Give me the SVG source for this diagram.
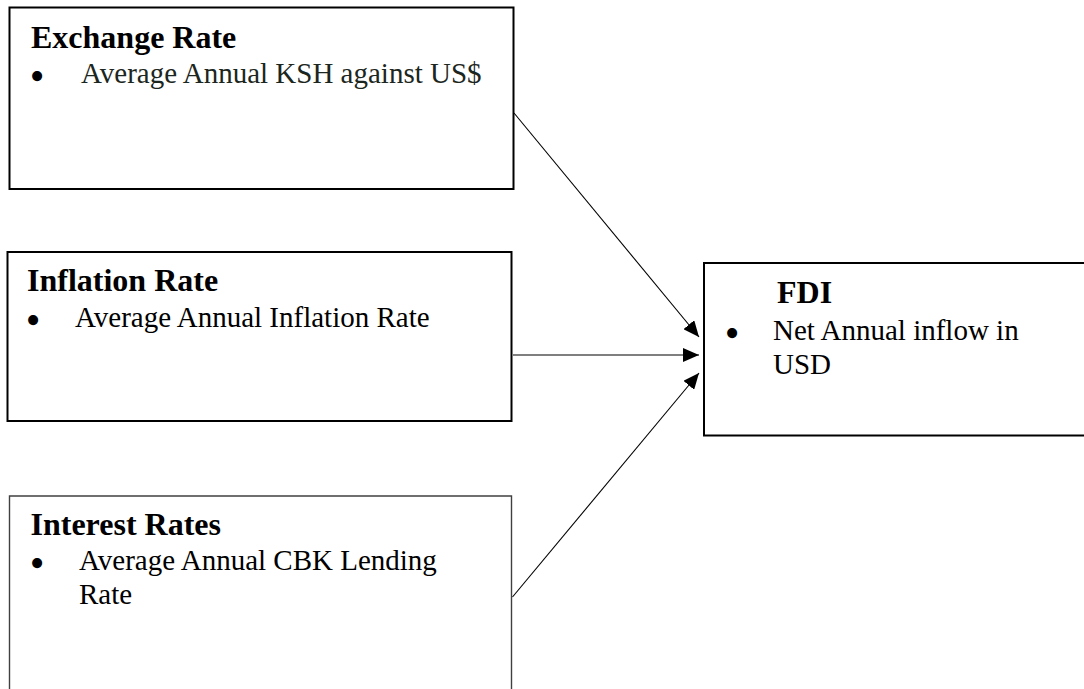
<svg xmlns="http://www.w3.org/2000/svg" width="1084" height="689" viewBox="0 0 1084 689">
  <style>
    .box { fill: #ffffff; stroke: #000000; stroke-width: 2; }
    .box3 { fill: #ffffff; stroke: #404040; stroke-width: 1.4; }
    .ttl { font-family: "Liberation Serif", "Times New Roman", Times, serif; font-weight: bold; font-size: 32px; fill: #000000; }
    .txt { font-family: "Liberation Serif", "Times New Roman", Times, serif; font-weight: normal; font-size: 29px; fill: #000000; }
    .blt { font-family: "Liberation Serif", "Times New Roman", Times, serif; font-size: 42px; fill: #000000; text-anchor: middle; }
    .conn { stroke: #000000; stroke-width: 1.1; fill: none; marker-end: url(#arrow); }
  </style>
  <defs>
    <marker id="arrow" markerUnits="userSpaceOnUse" markerWidth="16" markerHeight="14" viewBox="0 0 16 14" refX="16" refY="7" orient="auto">
      <path d="M0,0 L16,7 L0,14 Z" fill="#000000"/>
    </marker>
  </defs>
  <rect width="1084" height="689" fill="#ffffff"/>

  <g id="node-exchange-rate">
    <rect class="box" x="9.5" y="7.5" width="504" height="181.5"/>
    <text class="ttl" x="31" y="48">Exchange Rate</text>
    <text class="blt" x="37" y="90">•</text>
    <text class="txt" x="81" y="83" style="fill:#1c2620">Average Annual KSH against US$</text>
  </g>

  <g id="node-inflation-rate">
    <rect class="box" x="7.5" y="252" width="504" height="169"/>
    <text class="ttl" x="27" y="291">Inflation Rate</text>
    <text class="blt" x="33" y="334">•</text>
    <text class="txt" x="75" y="327">Average Annual Inflation Rate</text>
  </g>

  <g id="node-interest-rates">
    <path class="box3" d="M9.5,692 L9.5,496 L511.5,496 L511.5,692"/>
    <text class="ttl" x="30.5" y="535">Interest Rates</text>
    <text class="blt" x="37" y="577">•</text>
    <text class="txt" x="79" y="570">Average Annual CBK Lending</text>
    <text class="txt" x="79" y="604">Rate</text>
  </g>

  <g id="node-fdi">
    <rect class="box" x="704" y="263" width="390" height="172.5"/>
    <text class="ttl" x="777" y="303">FDI</text>
    <text class="blt" x="732" y="347">•</text>
    <text class="txt" x="773" y="340">Net Annual inflow in</text>
    <text class="txt" x="773" y="374">USD</text>
  </g>

  <g id="connectors">
    <line class="conn" x1="514" y1="113" x2="699" y2="337"/>
    <line class="conn" x1="513" y1="355" x2="699" y2="355"/>
    <line class="conn" x1="512.5" y1="597" x2="699" y2="373"/>
  </g>
</svg>
